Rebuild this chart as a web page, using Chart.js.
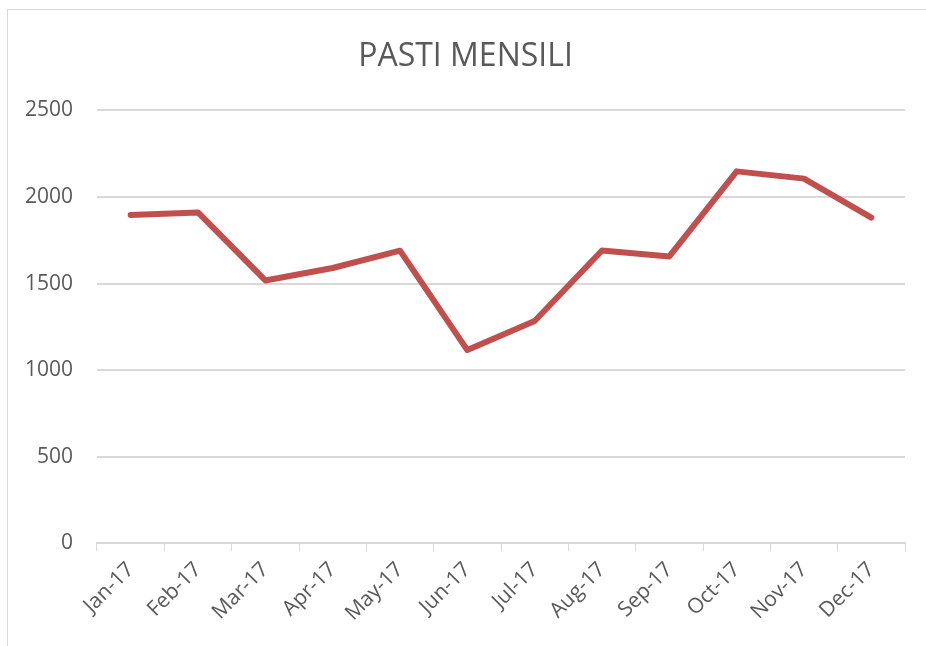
<!DOCTYPE html>
<html>
<head>
<meta charset="utf-8">
<title>Pasti mensili</title>
<script src="https://cdn.jsdelivr.net/npm/chart.js@4"></script>
<style>
  html, body { margin: 0; padding: 0; background: #fff; }
  .frame {
    position: absolute; left: 0; top: 0; width: 926px; height: 646px; overflow: hidden;
  }
  .frame .edge {
    position: absolute; left: 7px; top: 9px; width: 1000px; height: 1000px;
    border-top: 1px solid #d9d9d9; border-left: 1px solid #d9d9d9;
  }
  canvas { position: absolute; left: 0; top: 0; }
</style>
</head>
<body>
<div class="frame">
  <div class="edge"></div>
  <canvas id="pastiCanvas" width="926" height="646"></canvas>
</div>
<script>
// months and monthly meal counts
const months = ['Jan-17', 'Feb-17', 'Mar-17', 'Apr-17', 'May-17', 'Jun-17',
  'Jul-17', 'Aug-17', 'Sep-17', 'Oct-17', 'Nov-17', 'Dec-17'];
const pasti = [1896, 1911, 1518, 1590, 1690, 1116, 1284, 1691, 1657, 2148, 2106, 1881];
const yTicks = [0, 500, 1000, 1500, 2000, 2500];

Chart.defaults.font.family = "'Open Sans', sans-serif";
Chart.defaults.color = '#595959';

const ctx = document.getElementById('pastiCanvas').getContext('2d');
const pastiChart = new Chart(ctx, {
  type: 'line',
  data: {
    labels: months,
    datasets: [{
      label: 'Pasti',
      data: pasti,
      borderColor: '#c0504d',
      borderWidth: 6,
      borderCapStyle: 'round',
      borderJoinStyle: 'round',
      pointRadius: 0,
      tension: 0,
      fill: false
    }]
  },
  options: {
    responsive: false,
    animation: false,
    layout: {
      padding: { left: 26, right: 21, top: 38, bottom: 14 }
    },
    plugins: {
      legend: { display: false },
      tooltip: { enabled: false },
      title: {
        display: true,
        text: 'PASTI MENSILI',
        color: '#595959',
        font: { size: 32, weight: 'normal' },
        padding: { top: 0, bottom: 34 }
      }
    },
    scales: {
      x: {
        offset: true,
        grid: {
          offset: true,
          drawOnChartArea: false,
          color: '#d9d9d9',
          tickLength: 8
        },
        border: { color: '#d9d9d9', width: 2 },
        ticks: {
          font: { size: 21 },
          color: '#595959',
          minRotation: 45,
          maxRotation: 45,
          padding: 6
        }
      },
      y: {
        min: 0,
        max: 2500,
        afterBuildTicks: axis => {
          axis.ticks = yTicks.map(v => ({ value: v }));
        },
        afterFit: axis => {
          // keep the plot's left edge where the original has it
          axis.width = 71;
        },
        grid: {
          color: '#d9d9d9',
          lineWidth: 2,
          drawTicks: false
        },
        border: { display: false },
        ticks: {
          font: { size: 21 },
          color: '#595959',
          padding: 24,
          callback: value => String(value)
        }
      }
    }
  }
});
</script>
</body>
</html>
